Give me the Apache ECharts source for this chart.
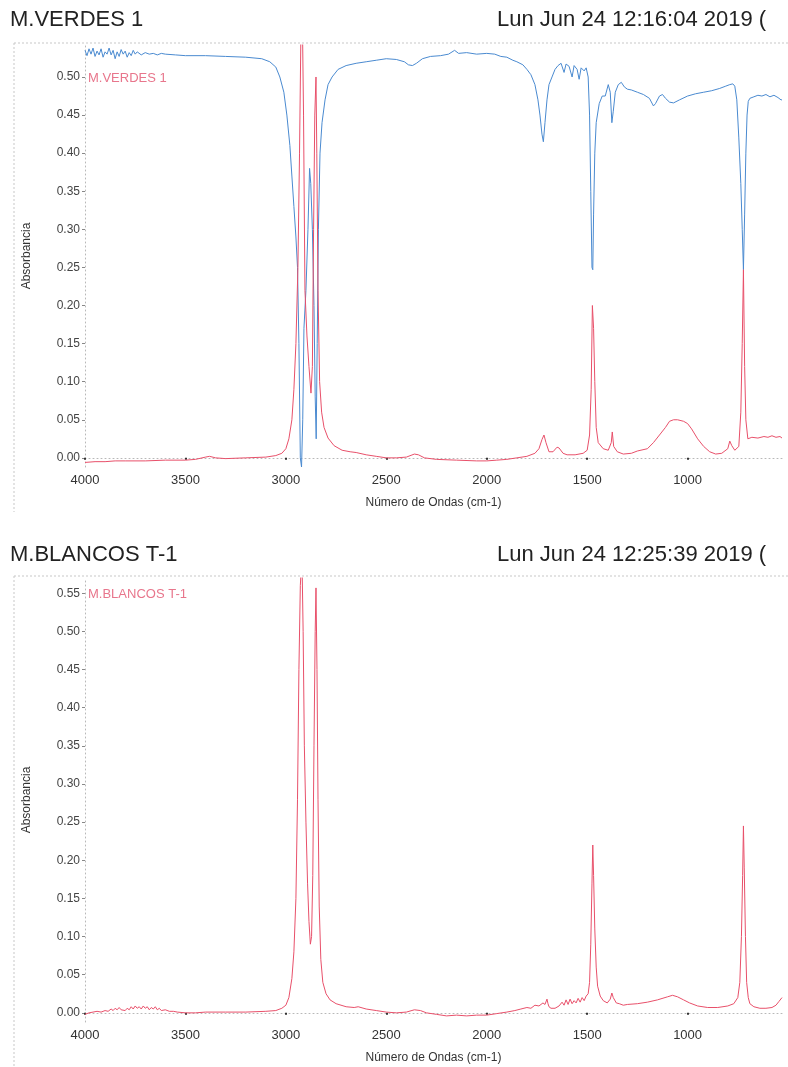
<!DOCTYPE html>
<html>
<head>
<meta charset="utf-8">
<script src="https://cdn.jsdelivr.net/npm/echarts@6/dist/echarts.min.js"></script>
<style>
  html, body { margin: 0; padding: 0; background: #fff; }
  #chart { width: 788px; height: 1067px; }
</style>
</head>
<body>
<div id="chart"></div>
<script>
// ticks
const xTicks = [4000, 3500, 3000, 2500, 2000, 1500, 1000];
const yTicksVerdes = [0, 0.05, 0.1, 0.15, 0.2, 0.25, 0.3, 0.35, 0.4, 0.45, 0.5];
const yTicksBlancos = [0, 0.05, 0.1, 0.15, 0.2, 0.25, 0.3, 0.35, 0.4, 0.45, 0.5, 0.55];

// M.VERDES 1 - blue trace [cm-1, absorbance]
const verdesAzul = [
  [4000,0.535],[3990,0.528],[3980,0.537],[3970,0.53],[3960,0.538],[3950,0.527],[3940,0.534],[3930,0.529],
  [3920,0.537],[3910,0.526],[3900,0.533],[3890,0.53],[3880,0.538],[3870,0.529],[3860,0.535],[3850,0.524],
  [3840,0.533],[3830,0.527],[3820,0.536],[3810,0.53],[3800,0.534],[3790,0.526],[3780,0.532],[3770,0.528],
  [3760,0.535],[3750,0.53],[3740,0.533],[3720,0.529],[3700,0.532],[3680,0.53],[3660,0.531],[3640,0.529],
  [3620,0.531],[3600,0.53],[3550,0.529],[3500,0.528],[3400,0.528],[3300,0.527],[3200,0.526],[3120,0.524],
  [3080,0.52],[3050,0.513],[3030,0.5],[3010,0.48],[2995,0.45],[2980,0.41],[2970,0.37],[2960,0.33],
  [2950,0.29],[2942,0.25],[2935,0.15],[2928,0.0],[2922,-0.012],[2916,0.05],[2910,0.17],[2900,0.22],
  [2890,0.3],[2882,0.38],[2876,0.36],[2868,0.3],[2860,0.2],[2854,0.08],[2849,0.025],[2844,0.15],
  [2838,0.3],[2830,0.4],[2820,0.44],[2805,0.47],[2790,0.49],[2770,0.5],[2740,0.51],[2700,0.515],
  [2650,0.518],[2600,0.52],[2550,0.522],[2500,0.524],[2450,0.523],[2410,0.52],[2390,0.516],[2370,0.515],
  [2350,0.518],[2320,0.524],[2280,0.527],[2230,0.528],[2190,0.53],[2160,0.535],[2140,0.531],[2100,0.532],
  [2050,0.53],[2000,0.531],[1960,0.53],[1930,0.527],[1900,0.526],[1870,0.522],[1850,0.52],[1820,0.516],
  [1800,0.51],[1780,0.503],[1760,0.49],[1745,0.47],[1735,0.45],[1725,0.425],[1718,0.415],[1710,0.44],
  [1700,0.47],[1690,0.49],[1675,0.5],[1660,0.51],[1645,0.515],[1630,0.518],[1615,0.506],[1605,0.517],
  [1590,0.514],[1575,0.5],[1565,0.515],[1550,0.51],[1540,0.497],[1530,0.512],[1515,0.508],[1505,0.512],
  [1495,0.5],[1488,0.45],[1482,0.35],[1476,0.25],[1472,0.247],[1468,0.32],[1462,0.4],[1455,0.44],
  [1440,0.465],[1425,0.475],[1410,0.475],[1395,0.49],[1385,0.48],[1377,0.44],[1370,0.455],[1360,0.48],
  [1345,0.49],[1330,0.493],[1315,0.487],[1300,0.484],[1280,0.483],[1250,0.48],[1220,0.477],[1190,0.472],
  [1170,0.462],[1160,0.465],[1140,0.475],[1125,0.477],[1110,0.472],[1090,0.467],[1070,0.466],[1040,0.47],
  [1000,0.475],[960,0.478],[920,0.48],[880,0.482],[840,0.485],[810,0.488],[790,0.49],[775,0.491],
  [765,0.488],[755,0.47],[745,0.42],[735,0.36],[728,0.3],[722,0.247],[716,0.32],[710,0.4],
  [704,0.45],[698,0.468],[690,0.472],[670,0.474],[650,0.476],[630,0.475],[610,0.477],[590,0.474],
  [570,0.476],[550,0.473],[535,0.47],[530,0.47]
];

// M.VERDES 1 - red trace
const verdesRojo = [
  [4000,-0.006],[3950,-0.005],[3900,-0.005],[3850,-0.004],[3800,-0.004],[3700,-0.004],[3600,-0.003],
  [3500,-0.003],[3450,-0.002],[3400,0.001],[3380,0.002],[3350,0.0],[3300,-0.001],[3200,0.0],[3100,0.001],
  [3050,0.003],[3020,0.006],[3000,0.012],[2985,0.025],[2970,0.05],[2960,0.09],[2950,0.15],[2940,0.25],
  [2932,0.4],[2925,0.56],[2918,0.58],[2912,0.45],[2905,0.22],[2895,0.16],[2885,0.12],[2875,0.085],
  [2868,0.12],[2862,0.3],[2856,0.45],[2850,0.5],[2846,0.4],[2840,0.22],[2832,0.1],[2822,0.06],
  [2810,0.04],[2790,0.026],[2760,0.016],[2720,0.01],[2680,0.008],[2650,0.007],[2600,0.004],[2550,0.002],
  [2500,0.0],[2450,0.0],[2400,0.001],[2360,0.005],[2340,0.004],[2310,0.0],[2250,-0.002],[2150,-0.003],
  [2050,-0.004],[2000,-0.004],[1950,-0.003],[1900,-0.002],[1850,0.0],[1800,0.002],[1760,0.006],
  [1740,0.012],[1725,0.024],[1715,0.03],[1705,0.02],[1690,0.008],[1670,0.008],[1650,0.014],[1640,0.013],
  [1620,0.006],[1600,0.004],[1560,0.004],[1520,0.006],[1500,0.01],[1488,0.03],[1480,0.09],[1474,0.2],
  [1468,0.17],[1462,0.1],[1455,0.04],[1445,0.02],[1420,0.012],[1395,0.01],[1380,0.02],[1375,0.034],
  [1368,0.015],[1350,0.008],[1320,0.005],[1280,0.006],[1250,0.009],[1200,0.012],[1170,0.02],[1140,0.03],
  [1110,0.04],[1090,0.048],[1070,0.05],[1050,0.05],[1020,0.048],[1000,0.045],[980,0.038],[950,0.025],
  [920,0.015],[890,0.008],[860,0.005],[830,0.006],[800,0.012],[790,0.022],[780,0.016],[765,0.01],
  [745,0.015],[735,0.06],[728,0.15],[722,0.247],[716,0.12],[710,0.05],[700,0.025],[680,0.027],
  [650,0.026],[620,0.028],[600,0.027],[580,0.029],[560,0.027],[540,0.028],[530,0.026]
];

// M.BLANCOS T-1 - red trace
const blancosRojo = [
  [4000,-0.002],[3980,0.0],[3960,0.001],[3940,0.002],[3920,0.001],[3900,0.003],[3885,0.002],[3870,0.005],
  [3860,0.003],[3850,0.006],[3840,0.004],[3830,0.007],[3820,0.004],[3800,0.003],[3790,0.006],[3780,0.004],
  [3770,0.008],[3760,0.005],[3750,0.009],[3740,0.006],[3730,0.008],[3720,0.005],[3710,0.009],[3700,0.006],
  [3690,0.008],[3680,0.004],[3670,0.007],[3660,0.005],[3650,0.008],[3640,0.004],[3630,0.006],[3620,0.003],
  [3600,0.004],[3580,0.002],[3560,0.002],[3540,0.001],[3500,0.0],[3450,0.0],[3400,0.001],[3300,0.001],
  [3200,0.001],[3100,0.002],[3050,0.003],[3020,0.006],[3000,0.01],[2985,0.02],[2970,0.045],[2960,0.08],
  [2950,0.15],[2942,0.28],[2935,0.45],[2928,0.56],[2920,0.6],[2914,0.5],[2908,0.35],[2900,0.25],
  [2892,0.17],[2885,0.12],[2878,0.09],[2872,0.1],[2866,0.18],[2860,0.35],[2854,0.5],[2850,0.557],
  [2845,0.45],[2840,0.28],[2834,0.14],[2826,0.07],[2816,0.04],[2800,0.025],[2780,0.017],[2750,0.012],
  [2700,0.008],[2660,0.007],[2640,0.008],[2600,0.005],[2550,0.003],[2500,0.001],[2450,0.0],[2400,0.001],
  [2360,0.004],[2330,0.003],[2300,0.0],[2250,-0.002],[2200,-0.004],[2150,-0.003],[2100,-0.004],[2050,-0.003],
  [2000,-0.003],[1950,-0.001],[1900,0.001],[1860,0.003],[1830,0.005],[1800,0.007],[1780,0.006],[1760,0.01],
  [1740,0.009],[1720,0.013],[1710,0.011],[1700,0.018],[1695,0.012],[1690,0.008],[1680,0.006],[1660,0.006],
  [1640,0.009],[1625,0.014],[1615,0.01],[1605,0.017],[1595,0.011],[1585,0.018],[1575,0.012],[1565,0.016],
  [1555,0.013],[1545,0.019],[1535,0.014],[1525,0.02],[1515,0.016],[1505,0.022],[1495,0.025],[1488,0.04],
  [1482,0.09],[1476,0.17],[1472,0.22],[1468,0.18],[1462,0.11],[1455,0.06],[1448,0.035],[1435,0.022],
  [1420,0.016],[1400,0.013],[1385,0.018],[1377,0.026],[1370,0.02],[1355,0.013],[1340,0.012],[1320,0.01],
  [1300,0.011],[1250,0.012],[1200,0.014],[1150,0.017],[1100,0.021],[1075,0.023],[1050,0.021],[1020,0.017],
  [990,0.013],[950,0.009],[900,0.007],[850,0.007],[800,0.009],[770,0.012],[750,0.02],[740,0.04],
  [732,0.1],[726,0.18],[722,0.245],[718,0.19],[712,0.1],[706,0.04],[698,0.02],[690,0.012],
  [670,0.008],[640,0.006],[610,0.006],[580,0.007],[560,0.01],[545,0.015],[530,0.02]
];

const chart = echarts.init(document.getElementById("chart"));

const font = "Liberation Sans, Arial, sans-serif";
const dotLine = { color: "#b8b8b8", type: [1, 3], width: 1 };
const titleStyle = { color: "#222", fontSize: 22, fontWeight: "normal", fontFamily: font };
const seriesLabel = { color: "#e8768c", fontSize: 13, fontFamily: font };

const makeX = (gridIndex) => ({
  type: "value",
  gridIndex: gridIndex,
  inverse: true,
  min: 530,
  max: 4000,
  name: "Número de Ondas (cm-1)",
  nameLocation: "middle",
  nameGap: 30,
  nameTextStyle: { color: "#333", fontSize: 12, fontFamily: font },
  splitLine: { show: false },
  axisLine: { show: true, lineStyle: dotLine },
  axisTick: { show: true, customValues: xTicks, length: 2, lineStyle: { color: "#333", width: 2 } },
  axisLabel: {
    customValues: xTicks,
    color: "#333",
    fontSize: 13,
    fontFamily: font,
    margin: 7,
    formatter: (v) => String(v),
  },
});

const makeY = (gridIndex, max, ticks) => ({
  type: "value",
  gridIndex: gridIndex,
  min: -0.012,
  max: max,
  name: "Absorbancia",
  nameLocation: "middle",
  nameGap: 52,
  nameTextStyle: { color: "#333", fontSize: 12, fontFamily: font },
  splitLine: { show: false },
  axisLine: { show: true, lineStyle: dotLine },
  axisTick: { show: true, customValues: ticks, length: 3, lineStyle: { color: "#888" } },
  axisLabel: {
    customValues: ticks,
    color: "#444",
    fontSize: 12,
    fontFamily: font,
    margin: 5,
    formatter: (v) => v.toFixed(2),
  },
});

const option = {
  backgroundColor: "#fff",
  animation: false,
  title: [
    { text: "M.VERDES 1", left: 5, top: 4, textStyle: titleStyle },
    { text: "Lun Jun 24 12:16:04 2019 (", left: 492, top: 4, textStyle: titleStyle },
    { text: "M.BLANCOS T-1", left: 5, top: 539, textStyle: titleStyle },
    { text: "Lun Jun 24 12:25:39 2019 (", left: 492, top: 539, textStyle: titleStyle },
  ],
  legend: [
    {
      data: ["M.VERDES 1"], left: 83, top: 71, padding: 0, icon: "none", itemWidth: 0, itemGap: 0,
      selectedMode: false, textStyle: seriesLabel,
    },
    {
      data: ["M.BLANCOS T-1"], left: 83, top: 587, padding: 0, icon: "none", itemWidth: 0, itemGap: 0,
      selectedMode: false, textStyle: seriesLabel,
    },
  ],
  grid: [
    { left: 85, right: 6, top: 45, height: 422 },
    { left: 85, right: 6, top: 578, height: 444 },
  ],
  xAxis: [makeX(0), makeX(1)],
  yAxis: [makeY(0, 0.542, yTicksVerdes), makeY(1, 0.57, yTicksBlancos)],
  graphic: [
    { type: "line", shape: { x1: 14, y1: 43, x2: 788, y2: 43 }, style: { stroke: "#c8c8c8", lineDash: [2, 2] } },
    { type: "line", shape: { x1: 14, y1: 43, x2: 14, y2: 512 }, style: { stroke: "#c8c8c8", lineDash: [2, 2] } },
    { type: "line", shape: { x1: 14, y1: 576, x2: 788, y2: 576 }, style: { stroke: "#c8c8c8", lineDash: [2, 2] } },
    { type: "line", shape: { x1: 14, y1: 576, x2: 14, y2: 1067 }, style: { stroke: "#c8c8c8", lineDash: [2, 2] } },
  ],
  series: [
    {
      name: "verdes azul",
      type: "line",
      xAxisIndex: 0,
      yAxisIndex: 0,
      data: verdesAzul,
      showSymbol: false,
      clip: true,
      lineStyle: { color: "#4a8ad0", width: 1 },
      itemStyle: { color: "#4a8ad0" },
    },
    {
      name: "M.VERDES 1",
      type: "line",
      xAxisIndex: 0,
      yAxisIndex: 0,
      data: verdesRojo,
      showSymbol: false,
      clip: true,
      lineStyle: { color: "#e8506a", width: 1 },
      itemStyle: { color: "#e8506a" },
    },
    {
      name: "M.BLANCOS T-1",
      type: "line",
      xAxisIndex: 1,
      yAxisIndex: 1,
      data: blancosRojo,
      showSymbol: false,
      clip: true,
      lineStyle: { color: "#e8506a", width: 1 },
      itemStyle: { color: "#e8506a" },
    },
  ],
};

chart.setOption(option);
</script>
</body>
</html>
